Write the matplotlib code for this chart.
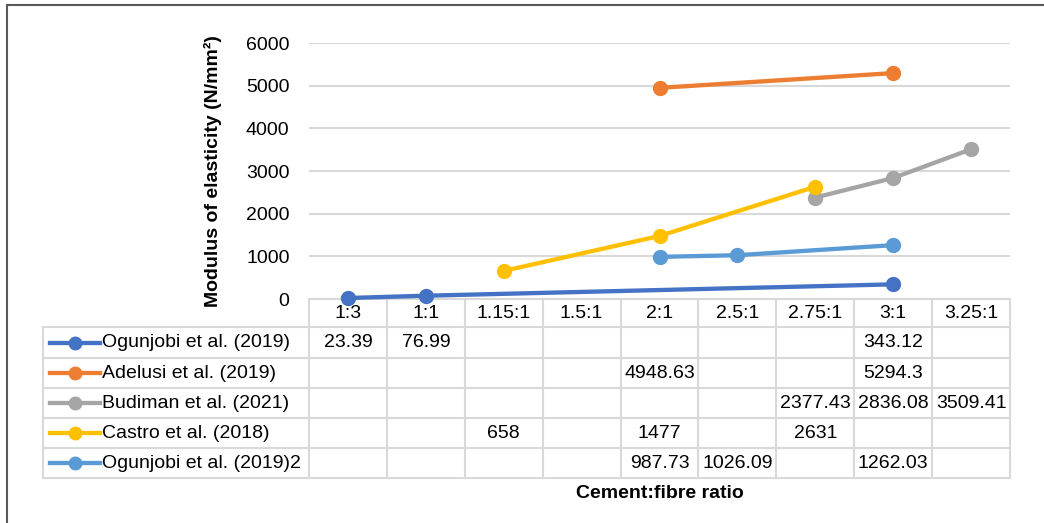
import numpy as np
import matplotlib.pyplot as plt
from matplotlib.patches import Rectangle

plt.rcParams['font.family'] = ['Liberation Sans', 'DejaVu Sans']

categories = ['1:3', '1:1', '1.15:1', '1.5:1', '2:1', '2.5:1', '2.75:1', '3:1', '3.25:1']
series_names = ['Ogunjobi et al. (2019)', 'Adelusi et al. (2019)', 'Budiman et al. (2021)',
                'Castro et al. (2018)', 'Ogunjobi et al. (2019)2']
nan = np.nan
ogunjobi = [23.39, 76.99, nan, nan, nan, nan, nan, 343.12, nan]
adelusi = [nan, nan, nan, nan, 4948.63, nan, nan, 5294.3, nan]
budiman = [nan, nan, nan, nan, nan, nan, 2377.43, 2836.08, 3509.41]
castro = [nan, nan, 658, nan, 1477, nan, 2631, nan, nan]
ogunjobi2 = [nan, nan, nan, nan, 987.73, 1026.09, nan, 1262.03, nan]
table_text = [
    ['23.39', '76.99', '', '', '', '', '', '343.12', ''],
    ['', '', '', '', '4948.63', '', '', '5294.3', ''],
    ['', '', '', '', '', '', '2377.43', '2836.08', '3509.41'],
    ['', '', '658', '', '1477', '', '2631', '', ''],
    ['', '', '', '', '987.73', '1026.09', '', '1262.03', ''],
]
colors = ['#4472C4', '#ED7D31', '#A5A5A5', '#FFC000', '#5B9BD5']

W, H = 1044, 523
FS = 14
LW = 3.1
MS = 10
fig = plt.figure(figsize=(W / 100, H / 100), dpi=100)

# outer chart border (right/bottom fall outside the image)
fig.patches.append(Rectangle((7 / W, -0.05), 1.1, 1 - 5 / H + 0.05, transform=fig.transFigure,
                             fill=False, edgecolor='#595959', linewidth=1.5))

ax_l, ax_r, ax_t, ax_b = 309, 1010, 43, 299
ax = fig.add_axes([ax_l / W, 1 - ax_b / H, (ax_r - ax_l) / W, (ax_b - ax_t) / H])
x = np.arange(len(categories))
ax.set_xlim(-0.5, len(categories) - 0.5)
ax.set_ylim(0, 6000)
ax.set_yticks(range(0, 6001, 1000))
ax.tick_params(axis='y', length=0, labelsize=FS, pad=14)
ax.set_xticks([])
for s in ['top', 'right', 'left']:
    ax.spines[s].set_visible(False)
ax.spines['bottom'].set_color('#d9d9d9')
ax.spines['bottom'].set_linewidth(1.5)
ax.grid(axis='y', color='#d9d9d9', linewidth=1.5)
ax.set_axisbelow(True)
ax.set_ylabel('Modulus of elasticity (N/mm²)', fontsize=FS, fontweight='bold', labelpad=17)

all_series = [ogunjobi, adelusi, budiman, castro, ogunjobi2]
for vals, c in zip(all_series, colors):
    v = np.array(vals, dtype=float)
    m = ~np.isnan(v)
    ax.plot(x[m], v[m], color=c, linewidth=LW, marker='o', markersize=MS, clip_on=False, zorder=3)

# data table below the axis
trans = ax.get_xaxis_transform()
ph = ax_b - ax_t
def yf(py):
    return (ax_b - py) / ph

row_edges = [327, 358, 388, 418, 448, 478]
grid_kw = dict(color='#d9d9d9', linewidth=1.5, clip_on=False, transform=trans)
for i in range(len(categories) + 1):
    ax.plot([i - 0.5, i - 0.5], [0, yf(row_edges[-1])], **grid_kw)
for ry in row_edges:
    ax.plot([-0.5, len(categories) - 0.5], [yf(ry), yf(ry)], **grid_kw)
    fig.add_artist(plt.Line2D([43 / W, ax_l / W], [1 - ry / H, 1 - ry / H],
                              color='#d9d9d9', linewidth=1.5))
fig.add_artist(plt.Line2D([43 / W, 43 / W], [1 - row_edges[0] / H, 1 - row_edges[-1] / H],
                          color='#d9d9d9', linewidth=1.5))

for i, cat in enumerate(categories):
    ax.text(i, yf((ax_b + row_edges[0]) / 2 + 1), cat, transform=trans, ha='center', va='center',
            fontsize=FS, clip_on=False)
for r, (name, c) in enumerate(zip(series_names, colors)):
    cy = (row_edges[r] + row_edges[r + 1]) / 2
    fy = 1 - cy / H
    fig.add_artist(plt.Line2D([50 / W, 100 / W], [fy, fy], color=c, linewidth=LW))
    fig.add_artist(plt.Line2D([75 / W], [fy], color=c, marker='o', markersize=MS - 1))
    fig.text(102 / W, fy, name, ha='left', va='center', fontsize=FS)
    for i, t in enumerate(table_text[r]):
        if t:
            ax.text(i, yf(cy), t, transform=trans, ha='center', va='center', fontsize=FS, clip_on=False)

fig.text(660 / W, 1 - 494 / H, 'Cement:fibre ratio', ha='center', va='center',
         fontsize=FS, fontweight='bold')

fig.savefig('out.png', dpi=100, facecolor='white')
